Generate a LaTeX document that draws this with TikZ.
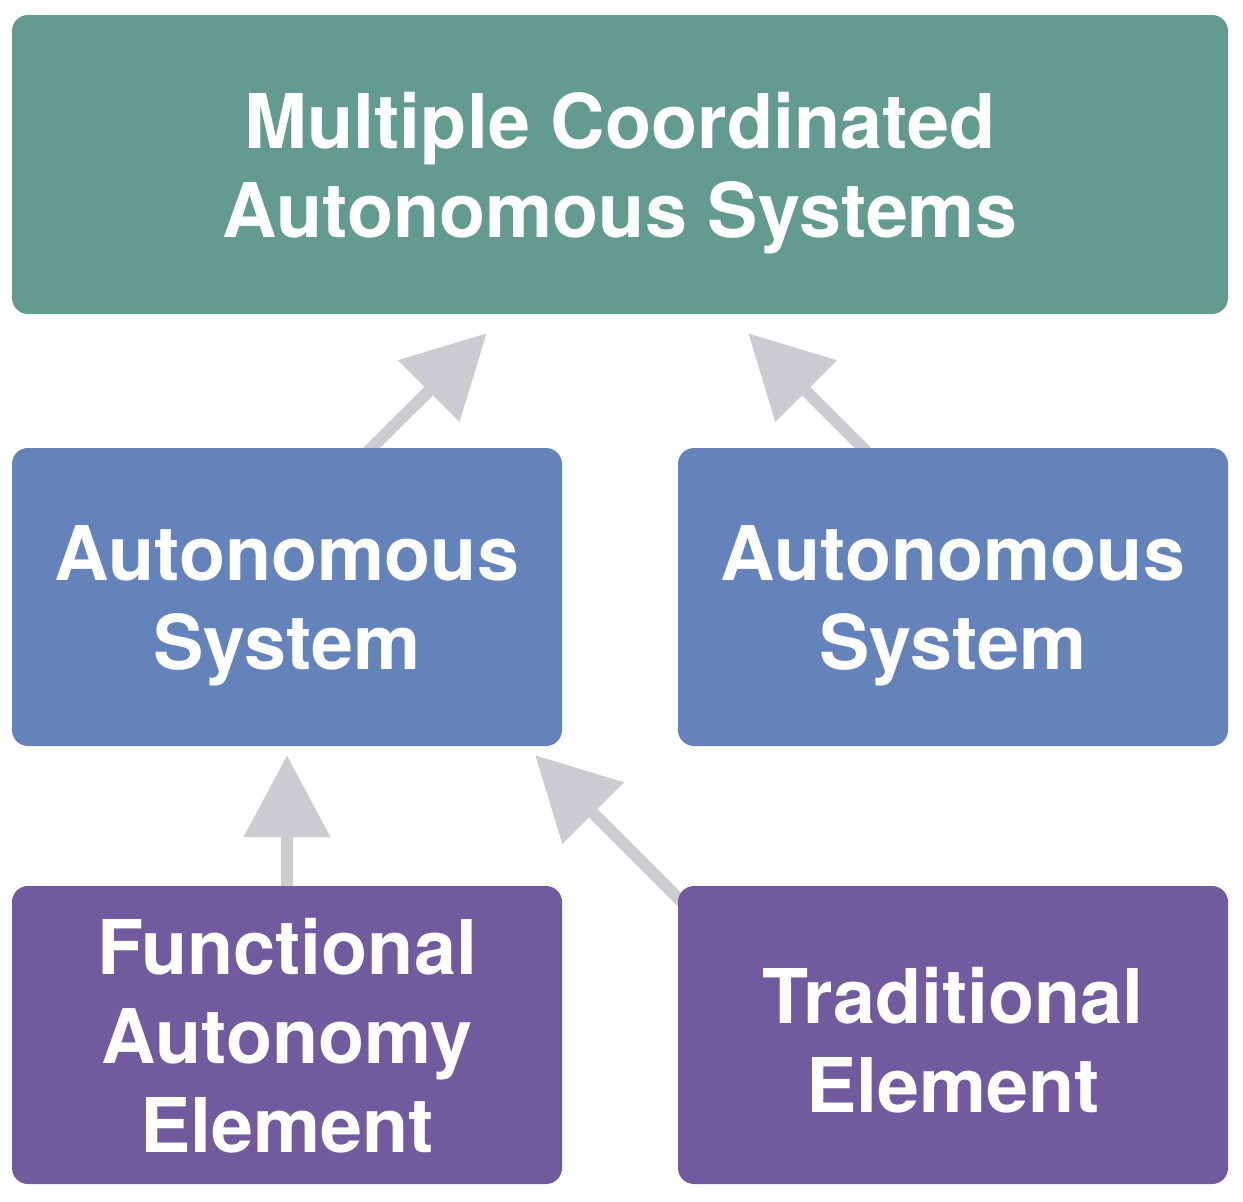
\documentclass[tikz,border=0pt]{standalone}
\usepackage{fontspec}
\setmainfont{TeX Gyre Heros}
\usetikzlibrary{arrows.meta,calc,backgrounds}
\definecolor{cgreen}{HTML}{639C8F}
\definecolor{cblue}{HTML}{6383BA}
\definecolor{cpurple}{HTML}{6F5B9D}
\definecolor{carrow}{HTML}{CDCBCF}
\tikzset{
  box/.style={rectangle, rounded corners=16pt, inner sep=0pt, text=white,
    font=\fontsize{75.5}{89}\selectfont\bfseries, align=center, text depth=0pt},
  wide/.style={minimum width=1216pt, minimum height=299pt},
  half/.style={minimum width=550pt, minimum height=298pt},
  conn/.style={draw=carrow, line width=12pt, -{Triangle[length=82pt,width=84pt]}, fill=carrow}
}
\begin{document}
\begin{tikzpicture}[x=1pt,y=-1pt]
\useasboundingbox (0,0) rectangle (1243,1202);
\node[box,wide,fill=cgreen] (top) at (620,164.5) {Multiple Coordinated\\Autonomous Systems};
\node[box,half,fill=cblue] (ml) at (287,597) {Autonomous\\System};
\node[box,half,fill=cblue] (mr) at (953,597) {Autonomous\\System};
\node[box,half,fill=cpurple] (bl) at (287,1035) {Functional\\Autonomy\\Element};
\node[box,half,fill=cpurple,text height=154pt] (br) at (953,1035) {Traditional\\Element};
\begin{pgfonlayer}{background}
\draw[conn] ($(ml.north west)+(354,6)$) -- ($(top.south west)+(475,19)$);
\draw[conn] ($(mr.north west)+(191,6)$) -- ($(top.south east)+(-480,19)$);
\draw[conn] ($(bl.north)+(0,6)$) -- ($(ml.south)+(0,9)$);
\draw[conn] ($(br.north west)+(7,19)$) -- ($(ml.south east)+(-27,9)$);
\end{pgfonlayer}
\end{tikzpicture}
\end{document}
